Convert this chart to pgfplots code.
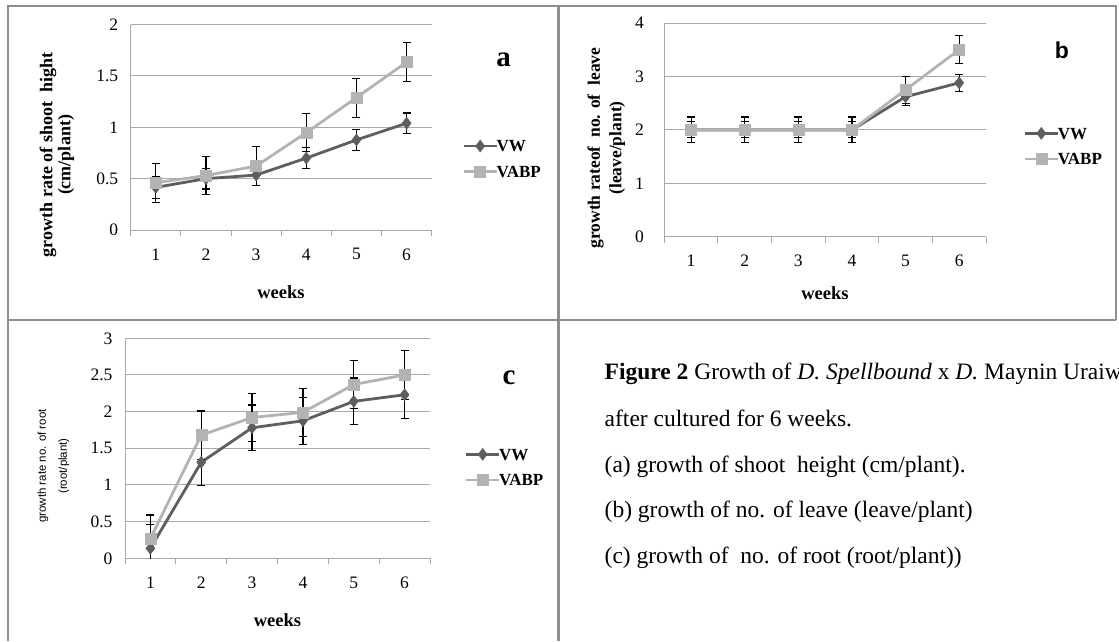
\documentclass[border=0pt]{standalone}
\usepackage{fontspec}
\setmainfont{Liberation Serif}
\setsansfont{Liberation Sans}
\usepackage{pgfplots}
\usepackage{pgfplotstable}
\pgfplotsset{compat=1.18}

\definecolor{vw}{HTML}{5E5E5E}
\definecolor{vabp}{HTML}{B3B3B3}
\definecolor{gridc}{HTML}{A8A8A8}
\definecolor{framec}{HTML}{8E8E8E}

% panel a: shoot height
\pgfplotstableread{
x y e
1 0.415 0.105
2 0.500 0.100
3 0.535 0.100
4 0.700 0.100
5 0.877 0.100
6 1.040 0.100
}\aVW
\pgfplotstableread{
x y e
1 0.460 0.190
2 0.530 0.185
3 0.623 0.190
4 0.948 0.185
5 1.289 0.190
6 1.635 0.190
}\aVABP
% panel b: no. of leave
\pgfplotstableread{
x y e
1 2.00 0.15
2 2.00 0.15
3 2.00 0.15
4 2.00 0.15
5 2.62 0.17
6 2.88 0.16
}\bVW
\pgfplotstableread{
x y e
1 2.00 0.24
2 2.00 0.24
3 2.00 0.24
4 2.00 0.24
5 2.75 0.25
6 3.50 0.26
}\bVABP
% panel c: no. of root
\pgfplotstableread{
x y e
1 0.136 0.33
2 1.310 0.32
3 1.780 0.31
4 1.875 0.32
5 2.140 0.32
6 2.230 0.32
}\cVW
\pgfplotstableread{
x y e
1 0.27 0.32
2 1.68 0.33
3 1.92 0.33
4 1.99 0.33
5 2.37 0.33
6 2.50 0.33
}\cVABP

\newcommand{\ticksize}{\fontsize{17.5}{20}\selectfont}
\newcommand{\legsize}{\fontsize{17}{20}\selectfont}

\pgfplotsset{
  panel/.style={
    scale only axis, anchor=south west,
    xmin=0.5, xmax=6.5,
    xtick={0.5,1.5,...,6.5}, x tick label as interval,
    xticklabels={1,2,3,4,5,6},
    ymin=0,
    axis lines*=left,
    axis line style={gridc, line width=1pt},
    ymajorgrids, grid style={gridc, line width=1pt},
    tick align=outside, major tick length=6pt,
    xtick style={gridc, line width=1pt},
    ytick style={draw=none},
    ticklabel style={font=\ticksize},
    /pgf/number format/assume math mode=true,
    xticklabel style={yshift=-9pt},
    yticklabel style={xshift=-3pt},
    legend cell align=left,
    legend style={draw=none, fill=none, anchor=west, inner sep=0pt,
      row sep=14pt, font=\legsize\bfseries,
      nodes={inner sep=0pt, text height=11.3pt, text depth=0pt}},
    % thick bar drawn as a filled strip, marker in the middle
    legend image code/.code={%
      \fill[##1, draw=none] (0pt,-1.4pt) rectangle (33pt,1.4pt);
      \path[##1] plot coordinates {(16.5pt,0pt)};},
  },
  ebars/.style={
    /pgfplots/error bars/y dir=both,
    /pgfplots/error bars/y explicit,
    /pgfplots/error bars/error bar style={black, line width=1.2pt},
    /pgfplots/error bars/error mark options={black, line width=1.2pt, mark size=4pt, rotate=90}},
  vwser/.style={ebars, vw, line width=2.8pt, mark=diamond*, mark size=6pt,
    mark options={solid, fill=vw, draw=vw, line width=0.5pt}},
  vabpser/.style={ebars, vabp, line width=2.8pt, mark=square*, mark size=5.5pt,
    mark options={solid, fill=vabp, draw=vabp, line width=0.5pt}},
}

\begin{document}
\begin{tikzpicture}[x=1pt, y=1pt]

% frames
\draw[framec, line width=2pt] (8.3,0) -- (8.3,635) -- (1115.7,635) -- (1115.7,321);
\draw[framec, line width=2pt] (8.3,321) -- (1115.7,321);
\draw[framec, line width=2.5pt] (558.5,0) -- (558.5,635);

% (a)
\begin{axis}[panel, at={(130.7pt,411pt)}, width=301pt, height=205.4pt,
  ymax=2, ytick={0,0.5,...,2},
  legend style={at={(1.1056,0.347)}}]
\addplot[vwser] table[x=x, y=y, y error=e] {\aVW};
\addplot[vabpser] table[x=x, y=y, y error=e] {\aVABP};
\legend{VW,VABP}
\end{axis}

% (b)
\begin{axis}[panel, at={(664.3pt,404.3pt)}, width=321.7pt, height=213.7pt,
  ymax=4, ytick={0,1,...,4},
  yticklabel style={xshift=-8pt},
  legend style={at={(1.12,0.4244)}}]
\addplot[vwser] table[x=x, y=y, y error=e] {\bVW};
\addplot[vabpser] table[x=x, y=y, y error=e] {\bVABP};
\legend{VW,VABP}
\end{axis}

% (c)
\begin{axis}[panel, at={(125pt,82.7pt)}, width=305pt, height=220pt,
  ymax=3, ytick={0,0.5,...,3},
  legend style={at={(1.118,0.415)}}]
\addplot[vwser] table[x=x, y=y, y error=e] {\cVW};
\addplot[vabpser] table[x=x, y=y, y error=e] {\cVABP};
\legend{VW,VABP}
\end{axis}

% axis titles
\node[rotate=90, align=center, font=\bfseries\fontsize{18}{18}\selectfont] at (57,486)
  {growth rate of shoot\ \ hight\\(cm/plant)};
\node[rotate=90, align=center, font=\bfseries\fontsize{17.5}{21.5}\selectfont] at (606.3,493)
  {growth rateof\ \ no. of\ \ leave\\(leave/plant)};
\node[rotate=90, align=center, font=\sffamily\fontsize{11.5}{21}\selectfont] at (53.5,175)
  {growth rate no. of root\\(root/plant)};
\node[font=\bfseries\fontsize{18.5}{20}\selectfont] at (281,349) {weeks};
\node[font=\bfseries\fontsize{18.5}{20}\selectfont] at (825,348) {weeks};
\node[font=\bfseries\fontsize{18.5}{20}\selectfont] at (277.5,21.3) {weeks};

% panel letters
\node[anchor=base, inner sep=0pt, font=\bfseries\fontsize{29}{30}\selectfont] at (503.6,574.3) {a};
\node[anchor=base, inner sep=0pt, font=\sffamily\bfseries\fontsize{23}{24}\selectfont] at (1062,582.7) {b};
\node[anchor=base, inner sep=0pt, font=\bfseries\fontsize{29}{30}\selectfont] at (509,256.3) {c};

% caption
\begin{scope}
\clip (0,0) rectangle (1119,641);
\begin{scope}[every node/.style={anchor=base west, inner sep=0pt, font=\fontsize{23.5}{28}\selectfont}]
\node at (604.5,261.3) {\textbf{Figure 2} Growth of \textit{D. Spellbound} x \textit{D.} Maynin Uraiwan};
\node at (604.5,215) {after cultured for 6 weeks.};
\node at (604.5,169) {(a) growth of shoot\ \ height (cm/plant).};
\node at (604.5,124) {(b) growth of no. of leave (leave/plant)};
\node at (604.5,78) {(c) growth of\ \ no. of root (root/plant))};
\end{scope}
\end{scope}

\pgfresetboundingbox
\useasboundingbox (0,0) rectangle (1119,641);
\end{tikzpicture}
\end{document}
